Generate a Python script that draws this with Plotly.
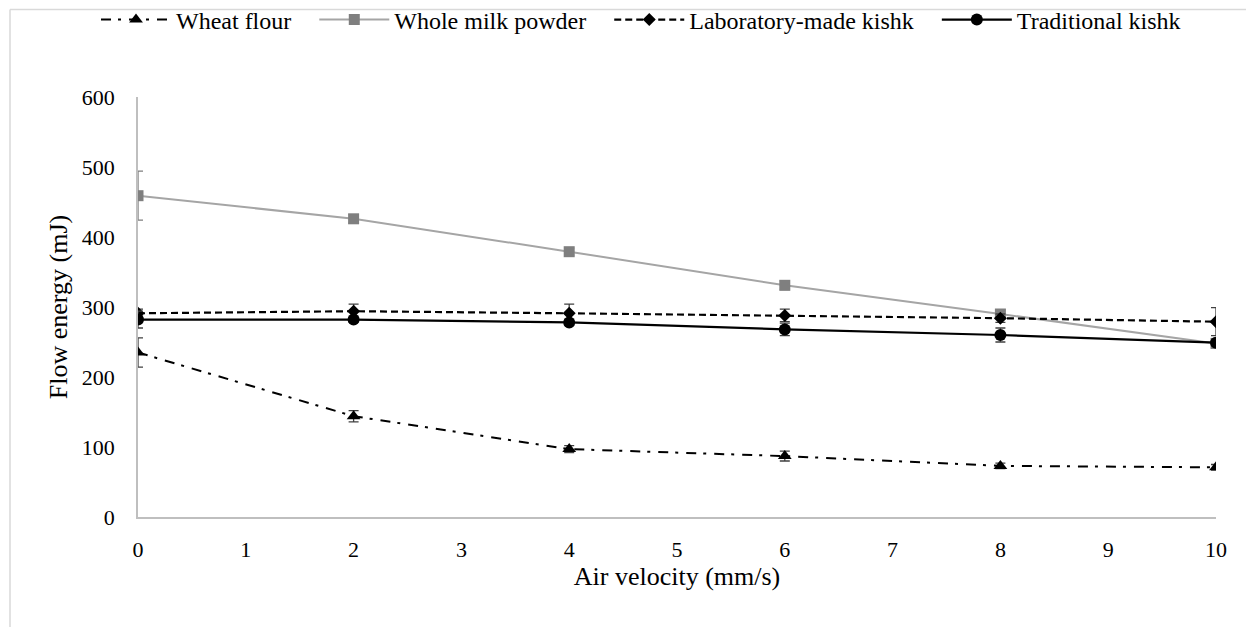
import plotly.graph_objects as go

x_vals = [0, 2, 4, 6, 8, 10]
wheat_flour = [235, 144, 97, 87, 73, 71]
wheat_err = [21, 8, 5, 7, 4, 4]
milk_powder = [459, 426, 379, 331, 290, 248]
milk_err = [35, 6, 5, 6, 6, 6]
lab_kishk = [291, 294, 291, 288, 284, 279]
lab_err = [6, 10, 13, 9, 6, 20]
trad_kishk = [282, 282, 278, 268, 260, 249]
trad_err = [12, 4, 4, 9, 10, 4]

x_ticks = list(range(0, 11))
y_ticks = [0, 100, 200, 300, 400, 500, 600]

FONT = "Liberation Serif"
PAD = "\u00a0" * 3

fig = go.Figure()

def add(name, y, err, color, mcolor, ecolor, dash, symbol, msize, lw):
    fig.add_trace(go.Scatter(
        x=x_vals, y=y, name=name + PAD, mode="lines+markers",
        line=dict(color=color, width=lw, dash=dash),
        marker=dict(symbol=symbol, size=msize, color=mcolor, line=dict(width=0)),
        error_y=dict(type="data", array=err, visible=True, color=ecolor,
                     thickness=1.3, width=5),
    ))

add("Wheat flour", wheat_flour, wheat_err, "#000000", "#000000", "#404040", "10px,7px,3px,8px", "triangle-up", 12, 2)
add("Whole milk powder", milk_powder, milk_err, "#A5A5A5", "#7F7F7F", "#7F7F7F", "solid", "square", 11, 2)
add("Laboratory-made kishk", lab_kishk, lab_err, "#000000", "#000000", "#404040", "7px,4px", "diamond", 10, 2.2)
add("Traditional kishk", trad_kishk, trad_err, "#000000", "#000000", "#404040", "solid", "circle", 12, 2.2)

# page body has an 8px margin: figure is offset by (8, 8)
OFF = 8
W, H = 1254 - OFF, 627 - OFF
L, T = 138 - OFF, 97 - OFF
pw, ph = 1078, 420
R, B = W - L - pw, H - T - ph

def px_x(p):  # p = page pixel
    return (p - OFF - L) / pw

def px_y(p):
    return (T + ph - (p - OFF)) / ph

# chart-area frame: left edge and top edge
fig.add_shape(type="line", xref="paper", yref="paper",
              x0=px_x(10), x1=px_x(10), y0=px_y(627 + 20), y1=px_y(9.5),
              line=dict(color="#D9D9D9", width=1.5), layer="above")
fig.add_shape(type="line", xref="paper", yref="paper",
              x0=px_x(10), x1=px_x(1254 + 20), y0=px_y(9.5), y1=px_y(9.5),
              line=dict(color="#D9D9D9", width=1.5), layer="above")

fig.update_layout(
    width=W, height=H,
    margin=dict(l=L, r=R, t=T, b=B, autoexpand=False),
    paper_bgcolor="white", plot_bgcolor="white",
    font=dict(family=FONT, size=22, color="#000000"),
    showlegend=True,
    legend=dict(orientation="h", x=px_x(96), xanchor="left", y=px_y(20), yanchor="middle",
                font=dict(size=24, family=FONT), itemwidth=70, tracegroupgap=0,
                bgcolor="rgba(0,0,0,0)"),
    xaxis=dict(range=[0, 10], tickmode="array", tickvals=x_ticks, ticktext=[str(v) for v in x_ticks],
               showgrid=False, zeroline=False, showline=True, linecolor="#BFBFBF", linewidth=1.5,
               ticks="", ticklabelstandoff=12, tickfont=dict(size=22, family=FONT),
               title=dict(text="Air velocity (mm/s)", font=dict(size=26, family=FONT), standoff=4)),
    yaxis=dict(range=[0, 600], tickmode="array", tickvals=y_ticks, ticktext=[str(v) for v in y_ticks],
               showgrid=False, zeroline=False, showline=True, linecolor="#BFBFBF", linewidth=1.5,
               ticks="", ticklabelstandoff=17, tickfont=dict(size=22, family=FONT),
               title=dict(text="Flow energy (mJ)", font=dict(size=26, family=FONT), standoff=7)),
)

fig.write_html("out.html")
